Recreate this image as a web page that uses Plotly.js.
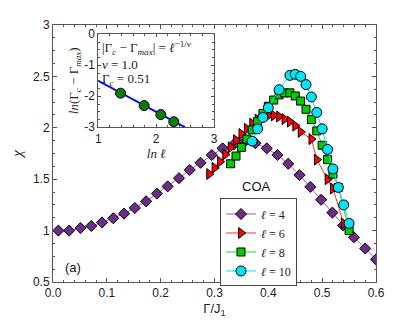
<!DOCTYPE html>
<html>
<head>
<meta charset="utf-8">
<script src="https://cdn.plot.ly/plotly-3.0.1.min.js"></script>
<style>body{margin:0;background:#fff}</style>
</head>
<body>
<div id="chiPlot"></div>
<script>
// chi vs Gamma/J1 for the COA, four sizes
var gam4 = [0.010, 0.030, 0.051, 0.071, 0.091, 0.112, 0.132, 0.152, 0.173, 0.193,
            0.213, 0.234, 0.254, 0.274, 0.295, 0.315, 0.336, 0.356, 0.376, 0.397,
            0.417, 0.437, 0.458, 0.478, 0.498, 0.519, 0.539, 0.559, 0.580, 0.600];
var chi4 = [1.00, 1.00, 1.025, 1.045, 1.08, 1.12, 1.165, 1.22, 1.285, 1.36,
            1.43, 1.51, 1.59, 1.66, 1.735, 1.80, 1.84, 1.865, 1.85, 1.80,
            1.735, 1.65, 1.54, 1.425, 1.30, 1.175, 1.05, 0.935, 0.826, 0.72];

var gam6 = [0.29, 0.30, 0.31, 0.32, 0.33, 0.34, 0.35, 0.36, 0.37, 0.38, 0.39, 0.40,
            0.41, 0.42, 0.43, 0.44, 0.45, 0.46, 0.48, 0.49, 0.51, 0.52, 0.54];
var chi6 = [1.55, 1.61, 1.67, 1.74, 1.81, 1.88, 1.94, 1.99, 2.04, 2.08, 2.11, 2.12,
            2.12, 2.11, 2.085, 2.06, 2.02, 1.96, 1.89, 1.69, 1.50, 1.41, 1.07];

var gam8 = [0.33, 0.34, 0.35, 0.36, 0.37, 0.38, 0.39, 0.40, 0.41, 0.42, 0.43,
            0.44, 0.45, 0.46, 0.47, 0.48, 0.49, 0.50, 0.51, 0.52, 0.53, 0.55];
var chi8 = [1.65, 1.725, 1.81, 1.89, 1.98, 2.06, 2.14, 2.21, 2.27, 2.32, 2.34,
            2.34, 2.31, 2.26, 2.18, 2.08, 1.97, 1.83, 1.69, 1.55, 1.42, 1.00];

var gam10 = [0.37, 0.38, 0.39, 0.40, 0.42, 0.44, 0.45, 0.46, 0.47, 0.48, 0.49,
             0.50, 0.51, 0.52, 0.53, 0.54, 0.55];
var chi10 = [1.87, 1.99, 2.10, 2.195, 2.37, 2.51, 2.52, 2.50, 2.42, 2.30, 2.15,
             1.99, 1.79, 1.60, 1.42, 1.25, 1.07];

// inset : ln(l) vs ln(Gc - Gmax)
var lnL = [1.386, 1.792, 2.079, 2.303];
var lnDiff = [-1.90, -2.30, -2.59, -2.82];
var fitX = [1.0, 2.5];
var fitY = [-1.5, -3.0];

var serif = 'Liberation Serif, DejaVu Serif, serif';
var sans = 'Liberation Sans, Arial, sans-serif';

function serie(x, y, nom, sym, fill, lineCol, taille) {
  return {
    x: x, y: y, name: nom, type: 'scatter', mode: 'lines+markers',
    line: {color: lineCol, width: 1},
    marker: {symbol: sym, size: taille, color: fill, line: {color: '#000', width: 1}},
    xaxis: 'x', yaxis: 'y'
  };
}

var data = [
  serie(gam4, chi4, '<i>ℓ</i> = 4', 'diamond', '#6e2c86', '#9b5aa8', 8.5),
  serie(gam6, chi6, '<i>ℓ</i> = 6', 'triangle-right', '#ff0000', '#ff3030', 9.5),
  serie(gam8, chi8, '<i>ℓ</i> = 8', 'square', '#00cc00', '#22dd22', 8),
  serie(gam10, chi10, '<i>ℓ</i> = 10', 'circle', '#00e5f5', '#00e5f5', 10),
  {x: fitX, y: fitY, mode: 'lines', line: {color: '#0000ff', width: 2},
   xaxis: 'x2', yaxis: 'y2', showlegend: false},
  {x: lnL, y: lnDiff, mode: 'markers',
   marker: {symbol: 'circle', size: 10, color: '#0b7a0b', line: {color: '#000', width: 1}},
   xaxis: 'x2', yaxis: 'y2', showlegend: false}
];

var axeBase = {
  showline: true, linecolor: '#555', linewidth: 1, mirror: 'ticks',
  ticks: 'inside', ticklen: 4, tickcolor: '#555', zeroline: false, showgrid: false,
  tickfont: {family: sans, size: 12, color: '#222'}
};

var layout = {
  width: 415, height: 329,
  margin: {l: 53, r: 39, t: 25, b: 47},
  paper_bgcolor: '#fff', plot_bgcolor: '#fff',
  showlegend: true,
  legend: {
    x: 0.517, y: 0.325, xanchor: 'left', yanchor: 'top',
    bordercolor: '#444', borderwidth: 1, bgcolor: '#fff',
    font: {family: serif, size: 12, color: '#222'},
    itemwidth: 30, tracegroupgap: 0
  },
  xaxis: Object.assign({}, axeBase, {
    range: [0, 0.6], dtick: 0.1, tickformat: '.1f',
    minor: {dtick: 0.02, ticks: 'inside', ticklen: 2, tickcolor: '#555'},
    title: {text: 'Γ/J<sub>1</sub>', font: {family: sans, size: 13, color: '#222'}, standoff: 4}
  }),
  yaxis: Object.assign({}, axeBase, {
    range: [0.5, 3], dtick: 0.5,
    minor: {dtick: 0.125, ticks: 'inside', ticklen: 2, tickcolor: '#555'},
    title: {text: '<i>χ</i>', font: {family: serif, size: 15, color: '#222'}, standoff: 6}
  }),
  xaxis2: Object.assign({}, axeBase, {
    domain: [0.140, 0.499], anchor: 'y2', range: [1, 3], dtick: 1,
    ticklen: 3,
    minor: {dtick: 0.2, ticks: 'inside', ticklen: 2, tickcolor: '#555'},
    title: {text: '<i>ln ℓ</i>', font: {family: serif, size: 13, color: '#222'}, standoff: 2}
  }),
  yaxis2: Object.assign({}, axeBase, {
    domain: [0.602, 0.964], anchor: 'x2', range: [-3, 0],
    tickvals: [0, -1, -2, -3], ticktext: ['0', '-1', '-2', '-3'], ticklen: 3,
    minor: {dtick: 0.25, ticks: 'inside', ticklen: 2, tickcolor: '#555'},
    title: {text: '<i>ln</i>(Γ<sub><i>c</i></sub> − Γ<sub><i>max</i></sub>)',
            font: {family: serif, size: 13, color: '#222'}, standoff: 2}
  }),
  annotations: [
    {xref: 'x2', yref: 'y2', x: 1.03, y: -0.45, xanchor: 'left', showarrow: false,
     text: '|Γ<sub><i>c</i></sub> − Γ<sub><i>max</i></sub>| = <i>ℓ</i><sup>−1/<i>ν</i></sup>',
     font: {family: serif, size: 13, color: '#222'}},
    {xref: 'x2', yref: 'y2', x: 1.03, y: -0.97, xanchor: 'left', showarrow: false,
     text: '<i>ν</i> = 1.0', font: {family: serif, size: 13, color: '#222'}},
    {xref: 'x2', yref: 'y2', x: 1.03, y: -1.47, xanchor: 'left', showarrow: false,
     text: 'Γ<sub><i>c</i></sub> = 0.51', font: {family: serif, size: 13, color: '#222'}},
    {xref: 'paper', yref: 'paper', x: 0.631, y: 0.37, showarrow: false,
     text: 'COA', font: {family: sans, size: 13, color: '#111'}},
    {xref: 'paper', yref: 'paper', x: 0.031, y: 0.055, xanchor: 'left', yanchor: 'middle',
     showarrow: false, text: '(a)', font: {family: sans, size: 13, color: '#111'}}
  ]
};

Plotly.newPlot('chiPlot', data, layout, {displayModeBar: false, staticPlot: true});
</script>
</body>
</html>
